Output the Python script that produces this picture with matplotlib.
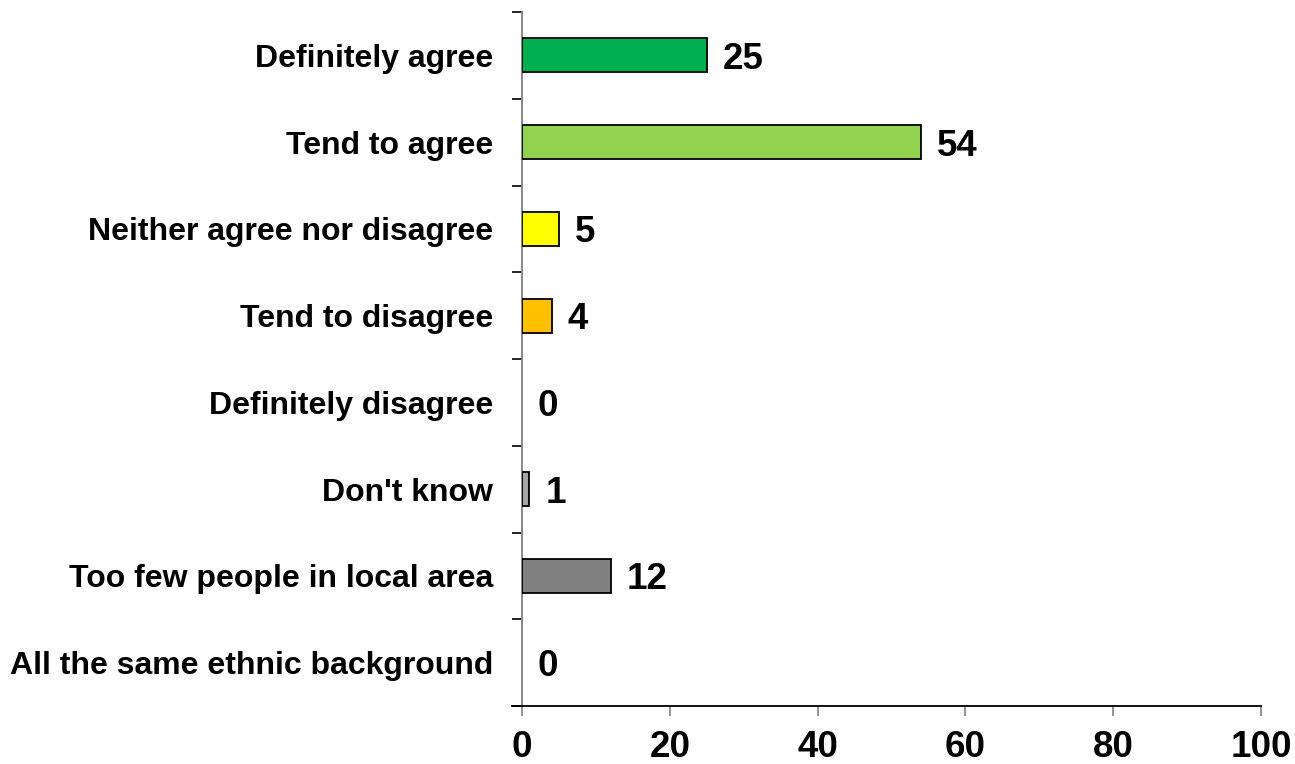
import matplotlib
matplotlib.use("Agg")
import matplotlib.pyplot as plt
import numpy as np

plt.rcParams['font.family'] = ['Liberation Sans', 'DejaVu Sans']

categories = [
    "Definitely agree",
    "Tend to agree",
    "Neither agree nor disagree",
    "Tend to disagree",
    "Definitely disagree",
    "Don't know",
    "Too few people in local area",
    "All the same ethnic background",
]
values = [25, 54, 5, 4, 0, 1, 12, 0]
colors = ["#00B050", "#92D050", "#FFFF00", "#FFC000",
          "#FFFFFF", "#A6A6A6", "#808080", "#FFFFFF"]
x_ticks = [0, 20, 40, 60, 80, 100]

fig = plt.figure(figsize=(12.95, 7.64), dpi=100)
ax = fig.add_axes([522 / 1295, 58 / 764, 739 / 1295, 694 / 764])

y = np.arange(len(categories))
for yi, v, c in zip(y, values, colors):
    if v > 0:
        ax.barh(yi, v, height=0.39, color=c, edgecolor="black", linewidth=1.3, zorder=3)
    ax.annotate(str(v), xy=(v, yi), xytext=(11.5, 0), textcoords="offset points",
                ha="left", va="center_baseline", fontsize=26.5, fontweight="bold",
                color="black")

ax.set_xlim(0, 100)
ax.set_ylim(len(categories) - 0.5, -0.5)

ax.set_xticks(x_ticks)
ax.set_xticklabels([str(t) for t in x_ticks], fontsize=26.5, fontweight="bold")
ax.tick_params(axis="x", length=7, width=1.2, color="#808080", pad=10.5)

ax.set_yticks(np.arange(-0.5, len(categories), 1.0))
ax.set_yticklabels([])
ax.tick_params(axis="y", which="major", length=7, width=1.2, color="black")
ax.set_yticks(y, minor=True)
ax.set_yticklabels(categories, minor=True, fontsize=23, fontweight="bold")
ax.tick_params(axis="y", which="minor", length=0, pad=21)

for side in ("top", "right"):
    ax.spines[side].set_visible(False)
ax.spines["left"].set_color("#808080")
ax.spines["left"].set_linewidth(1.3)
ax.spines["bottom"].set_color("black")
ax.spines["bottom"].set_linewidth(1.3)
ax.spines["bottom"].set_bounds(-1.4, 100)

fig.savefig("out.png", dpi=100)
